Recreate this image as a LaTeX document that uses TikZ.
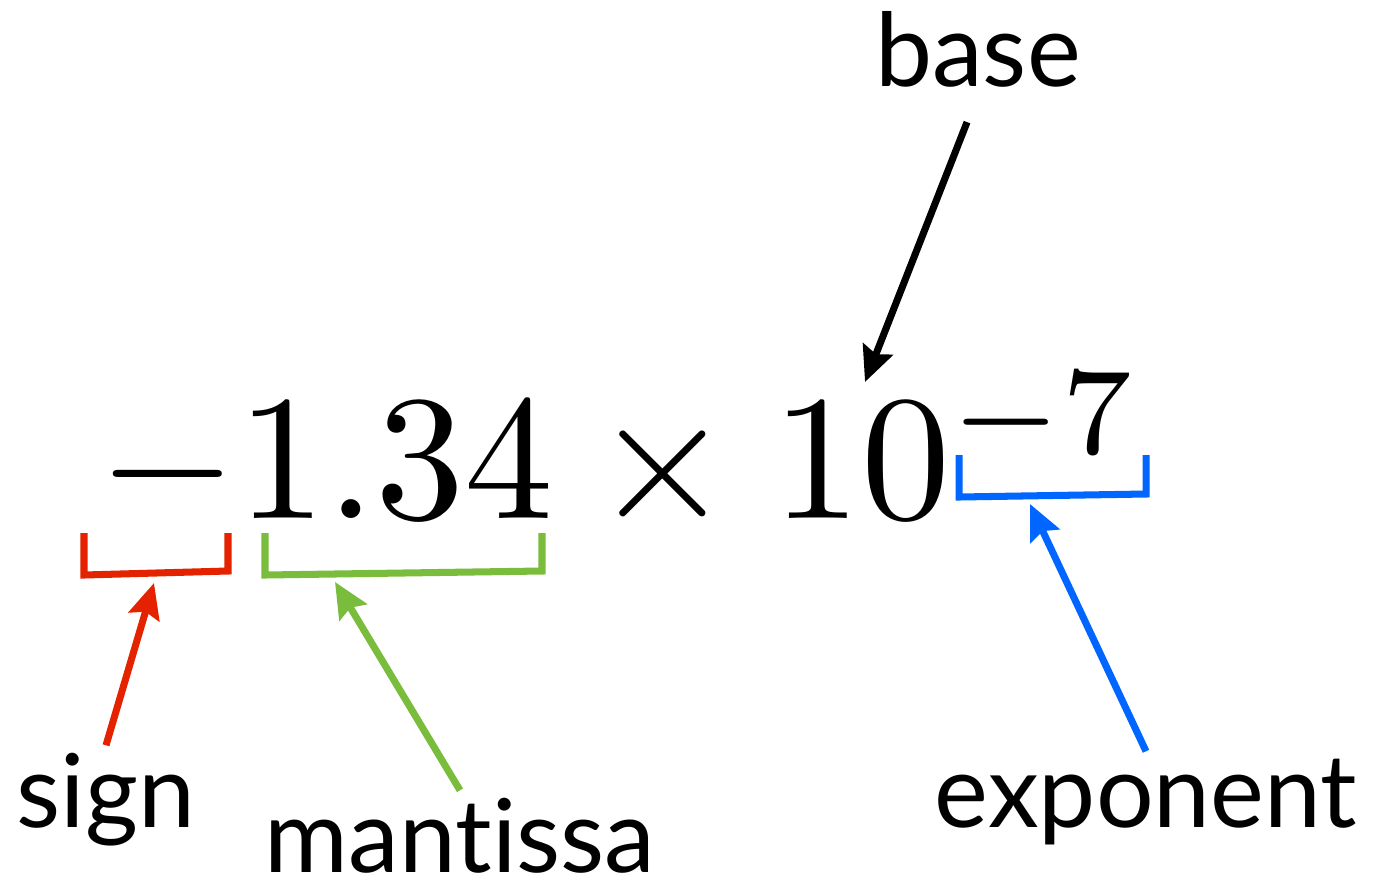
\documentclass[tikz,border=0pt]{standalone}
\usepackage{fontspec}
\usepackage{graphicx}
\usepackage{xcolor}
\usepackage{tikz}
\usetikzlibrary{arrows.meta}
\newfontfamily\labelfont[Ligatures=NoCommon]{Lato}
\definecolor{signred}{RGB}{228, 34, 0}
\definecolor{mantgreen}{RGB}{122, 188, 60}
\definecolor{expblue}{RGB}{0, 102, 255}
\tikzstyle{word} = [anchor=base, inner sep=4pt, font=\labelfont\fontsize{58}{60}\selectfont]
\tikzstyle{bracket} = [line width=4pt, line join=miter]
\tikzstyle{pointer} = [line width=4pt, -{Stealth[length=20pt, width=18pt, inset=3pt]}]

\begin{document}
\begin{tikzpicture}[x=0.02cm, y=-0.02cm]
    \useasboundingbox (0,0) rectangle (1378,883);
    % Number
    \node (number) [anchor=base west, inner sep=0] at (98,518) {\scalebox{10.15}{$-1.34\times10^{-7}$}};

    % Labels
    \node (basetext) [word] at (978,86) {base};
    \node (signtext) [word] at (106,827) {sign};
    \node (manttext) [word] at (460,872) {mantissa};
    \node (exptext) [word] at (1146,827) {exponent};

    % Brackets
    \draw [bracket, signred] (84,533) -- (84,575) -- (228,571) -- (228,533);
    \draw [bracket, mantgreen] (265,533) -- (265,575) -- (542,571) -- (542,533);
    \draw [bracket, expblue] (959,455) -- (959,497) -- (1146,494) -- (1146,455);

    % Arrow tips
    \coordinate (signtip) at (154,583);
    \coordinate (manttip) at (335,582);
    \coordinate (exptip) at (1030,504);
    \coordinate (basetip) at (865,382);

    % Arrows
    \draw [pointer, signred] (signtext.north) -- (signtip);
    \draw [pointer, mantgreen] (manttext.north) -- (manttip);
    \draw [pointer, expblue] (exptext.north) -- (exptip);
    \draw [pointer, shorten <=0.6cm] (basetext.south) -- (basetip);
\end{tikzpicture}
\end{document}
